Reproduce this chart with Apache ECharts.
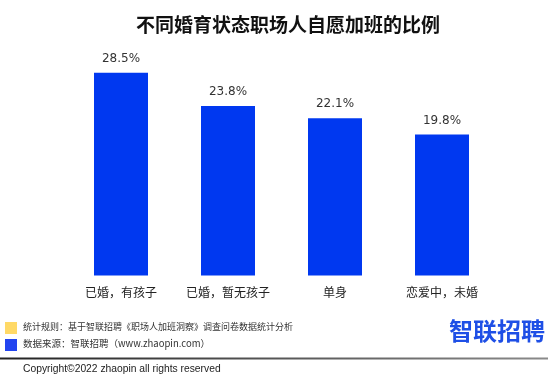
<!DOCTYPE html>
<html>
<head>
<meta charset="utf-8">
<script src="https://cdn.jsdelivr.net/npm/echarts@6/dist/echarts.min.js"></script>
<style>html,body{margin:0;padding:0;background:#fff;}#c{width:548px;height:383px;}</style>
</head>
<body>
<div id="c"></div>
<script>
const categories = ['已婚，有孩子', '已婚，暂无孩子', '单身', '恋爱中，未婚'];
const values = [28.5, 23.8, 22.1, 19.8];
const titleText = '不同婚育状态职场人自愿加班的比例';
const note1 = '统计规则：基于智联招聘《职场人加班洞察》调查问卷数据统计分析';
const note2 = '数据来源：智联招聘（www.zhaopin.com）';
const copyright = 'Copyright©2022 zhaopin all rights reserved';
const logoText = '智联招聘';

const chart = echarts.init(document.getElementById('c'), null, {renderer: 'canvas'});
chart.setOption({
  backgroundColor: '#fff',
  animation: false,
  title: {
    text: titleText, left: 131, top: 10,
    textStyle: {fontSize: 19, fontWeight: 'bold', color: '#111', fontFamily: 'Noto Sans CJK SC'}
  },
  grid: {left: 67.5, right: 52.5, top: 62, bottom: 107.5},
  xAxis: {
    type: 'category', data: categories,
    axisLine: {show: false}, axisTick: {show: false},
    axisLabel: {interval: 0, margin: 11, fontSize: 12, color: '#222', fontFamily: 'Noto Sans CJK SC'}
  },
  yAxis: {type: 'value', min: 0, max: 30, show: false, splitLine: {show: false}},
  series: [{
    type: 'bar', data: values, barWidth: 54,
    itemStyle: {color: '#0038F0'},
    label: {
      show: true, position: 'top', distance: 8,
      formatter: p => p.value.toFixed(1) + '%',
      fontSize: 12, color: '#333', fontFamily: 'DejaVu Sans'
    }
  }],
  graphic: [
    {type: 'rect', shape: {x: 5, y: 322, width: 12, height: 12}, style: {fill: '#FFD966'}},
    {type: 'rect', shape: {x: 5, y: 339, width: 12, height: 12}, style: {fill: '#2244F0'}},
    {type: 'text', left: 23, top: 322, style: {text: note1, fontSize: 9, fill: '#333', fontFamily: 'Noto Sans CJK SC'}},
    {type: 'text', left: 23, top: 339, style: {text: note2, fontSize: 9.5, fill: '#333', fontFamily: 'Noto Sans CJK SC'}},
    {type: 'text', right: 3, top: 319, style: {text: logoText, fontSize: 24, fontWeight: 'bold', fill: '#1E4FE6', fontFamily: 'Noto Sans CJK SC'}},
    {type: 'rect', shape: {x: 0, y: 357.5, width: 548, height: 2},
      style: {fill: new echarts.graphic.LinearGradient(0, 0, 1, 0, [{offset: 0, color: '#222'}, {offset: 1, color: '#8a8a8a'}])}},
    {type: 'text', left: 23, top: 364, style: {text: copyright, fontSize: 10.3, fill: '#222', fontFamily: 'Liberation Sans'}}
  ]
});
</script>
</body>
</html>
